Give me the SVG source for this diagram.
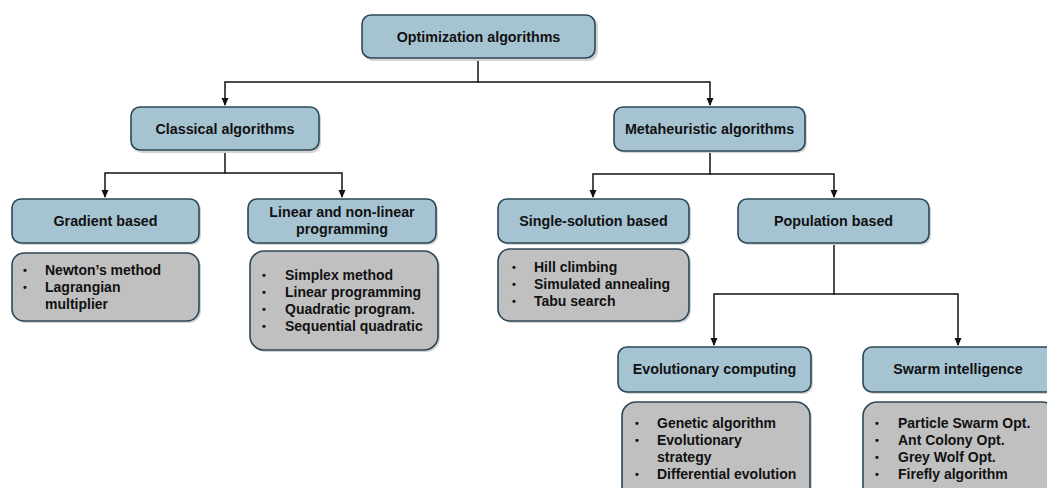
<svg xmlns="http://www.w3.org/2000/svg" width="1047" height="488" viewBox="0 0 1047 488">
<defs>
<style>
.hd{fill:#A6C3D1;stroke:#2B4756;stroke-width:1.6}
.ls{fill:#C0C0C0;stroke:#2B4756;stroke-width:1.6}
.sh{fill:#D4D4D4;stroke:none}
.t{font-family:"Liberation Sans",Arial,sans-serif;font-weight:bold;font-size:14.3px;fill:#111;text-anchor:middle}
.l{font-family:"Liberation Sans",Arial,sans-serif;font-weight:bold;font-size:14px;fill:#111}
.b{font-family:"Liberation Sans",Arial,sans-serif;font-weight:bold;font-size:11px;fill:#111}
.c{fill:none;stroke:#111;stroke-width:1.5}
</style>
<marker id="ah" viewBox="0 0 8 8" refX="7" refY="4" markerWidth="8" markerHeight="8" markerUnits="userSpaceOnUse" orient="auto">
<path d="M0,0.5 L8,4 L0,7.5 Z" fill="#111"/>
</marker>
</defs>
<rect width="1047" height="488" fill="#fff"/>
<g id="connectors">
<path class="c" d="M478,58 V82 H225 V105" marker-end="url(#ah)"/>
<path class="c" d="M478,82 H710 V105" marker-end="url(#ah)"/>
<path class="c" d="M225,150 V173 H105 V197" marker-end="url(#ah)"/>
<path class="c" d="M225,173 H342 V197" marker-end="url(#ah)"/>
<path class="c" d="M710,151 V174 H593 V197" marker-end="url(#ah)"/>
<path class="c" d="M710,174 H834 V197" marker-end="url(#ah)"/>
<path class="c" d="M834,243 V294 H714 V345" marker-end="url(#ah)"/>
<path class="c" d="M834,294 H958 V345" marker-end="url(#ah)"/>
</g>
<g id="n-root">
<rect class="sh" x="364" y="17" width="234" height="44" rx="9"/>
<rect class="hd" x="362" y="15" width="233" height="43" rx="9"/>
<text class="t" x="478.5" y="41.5">Optimization algorithms</text>
</g>
<g id="n-classical">
<rect class="sh" x="133" y="109" width="188" height="44" rx="9"/>
<rect class="hd" x="131" y="107" width="188" height="43" rx="9"/>
<text class="t" x="225" y="133.5">Classical algorithms</text>
</g>
<g id="n-meta">
<rect class="sh" x="616" y="109" width="191" height="44" rx="9"/>
<rect class="hd" x="614" y="107" width="191" height="44" rx="9"/>
<text class="t" x="709.5" y="133.5">Metaheuristic algorithms</text>
</g>
<g id="n-gradient">
<rect class="sh" x="14" y="201" width="187" height="44" rx="9"/>
<rect class="hd" x="12" y="199" width="187" height="44" rx="9"/>
<text class="t" x="105.5" y="225.5">Gradient based</text>
</g>
<g id="n-linear">
<rect class="sh" x="250" y="201" width="188" height="44" rx="9"/>
<rect class="hd" x="248" y="199" width="188" height="44" rx="9"/>
<text class="t" x="342" y="217">Linear and non-linear</text>
<text class="t" x="342" y="234">programming</text>
</g>
<g id="n-single">
<rect class="sh" x="500" y="201" width="191" height="44" rx="9"/>
<rect class="hd" x="498" y="199" width="191" height="44" rx="9"/>
<text class="t" x="593.5" y="225.5">Single-solution based</text>
</g>
<g id="n-population">
<rect class="sh" x="740" y="201" width="191" height="44" rx="9"/>
<rect class="hd" x="738" y="199" width="191" height="44" rx="9"/>
<text class="t" x="833.5" y="225.5">Population based</text>
</g>
<g id="n-evolutionary">
<rect class="sh" x="620" y="349" width="193" height="45" rx="9"/>
<rect class="hd" x="618" y="347" width="193" height="45" rx="9"/>
<text class="t" x="714.5" y="374">Evolutionary computing</text>
</g>
<g id="n-swarm">
<rect class="sh" x="865" y="349" width="193" height="45" rx="9"/>
<rect class="hd" x="863" y="347" width="193" height="45" rx="9"/>
<text class="t" x="958" y="374">Swarm intelligence</text>
</g>
<g id="l-gradient">
<rect class="sh" x="14" y="255" width="187" height="68" rx="12"/>
<rect class="ls" x="12" y="253" width="187" height="68" rx="12"/>
<text class="b" x="23" y="274">•</text><text class="l" x="45" y="275">Newton’s method</text>
<text class="b" x="23" y="291">•</text><text class="l" x="45" y="292">Lagrangian</text>
<text class="l" x="45" y="309">multiplier</text>
</g>
<g id="l-linear">
<rect class="sh" x="252" y="253" width="188" height="99" rx="14"/>
<rect class="ls" x="250" y="251" width="188" height="99" rx="14"/>
<text class="b" x="262" y="279">•</text><text class="l" x="285" y="280">Simplex method</text>
<text class="b" x="262" y="296">•</text><text class="l" x="285" y="297">Linear programming</text>
<text class="b" x="262" y="313">•</text><text class="l" x="285" y="314">Quadratic program.</text>
<text class="b" x="262" y="330">•</text><text class="l" x="285" y="331">Sequential quadratic</text>
</g>
<g id="l-single">
<rect class="sh" x="500" y="251" width="191" height="72" rx="12"/>
<rect class="ls" x="498" y="249" width="191" height="72" rx="12"/>
<text class="b" x="512" y="271">•</text><text class="l" x="534" y="272">Hill climbing</text>
<text class="b" x="512" y="288">•</text><text class="l" x="534" y="289">Simulated annealing</text>
<text class="b" x="512" y="305">•</text><text class="l" x="534" y="306">Tabu search</text>
</g>
<g id="l-evolutionary">
<rect class="sh" x="624" y="404" width="188" height="100" rx="14"/>
<rect class="ls" x="622" y="402" width="188" height="100" rx="14"/>
<text class="b" x="635" y="427">•</text><text class="l" x="657" y="428">Genetic algorithm</text>
<text class="b" x="635" y="444">•</text><text class="l" x="657" y="445">Evolutionary</text>
<text class="l" x="657" y="462">strategy</text>
<text class="b" x="635" y="478">•</text><text class="l" x="657" y="479">Differential evolution</text>
</g>
<g id="l-swarm">
<rect class="sh" x="865" y="404" width="193" height="100" rx="14"/>
<rect class="ls" x="863" y="402" width="193" height="100" rx="14"/>
<text class="b" x="875" y="427">•</text><text class="l" x="898" y="428">Particle Swarm Opt.</text>
<text class="b" x="875" y="444">•</text><text class="l" x="898" y="445">Ant Colony Opt.</text>
<text class="b" x="875" y="461">•</text><text class="l" x="898" y="462">Grey Wolf Opt.</text>
<text class="b" x="875" y="478">•</text><text class="l" x="898" y="479">Firefly algorithm</text>
</g>
</svg>
